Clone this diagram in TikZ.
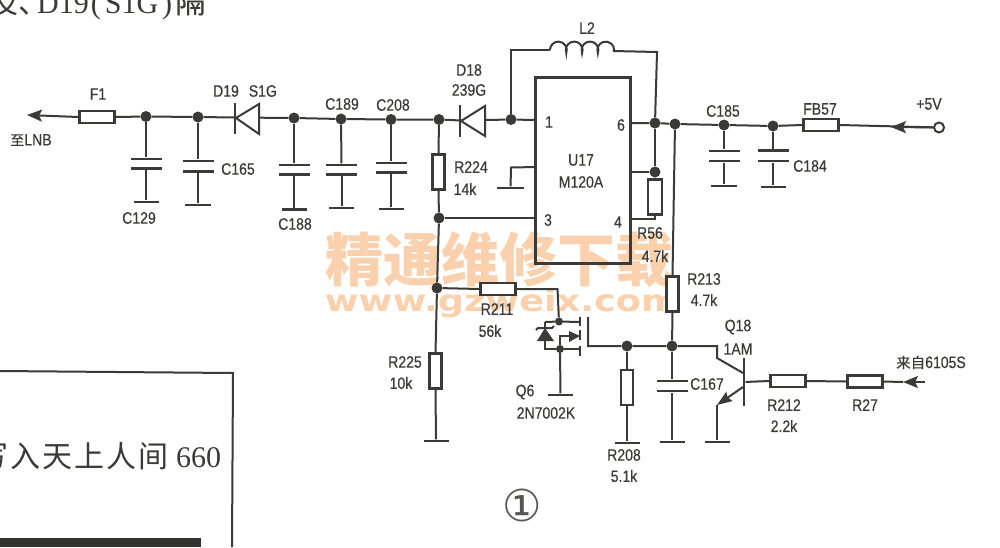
\documentclass[tikz,border=0pt]{standalone}
\usepackage{fontspec}
\usetikzlibrary{arrows.meta}
\setmainfont{Liberation Serif}
\newfontfamily\lb[FakeStretch=0.85,FakeBold=0.35]{Liberation Sans}
\newfontfamily\cjk{Noto Sans CJK SC}
\newfontfamily\cjkb[FakeBold=0.35]{Noto Sans CJK SC}
\newfontfamily\djv{DejaVu Sans}
\newfontfamily\wmfont[FakeStretch=1.22]{DejaVu Sans}
\definecolor{ink}{HTML}{3A3A36}
\definecolor{wm}{HTML}{FBD0AC}
\tikzset{
  wire/.style={draw=ink,line width=2pt,line join=miter},
  res/.style={draw=ink,fill=white,line width=2.1pt,rectangle,inner sep=0pt},
  hres/.style={res,minimum width=35pt,minimum height=12pt},
  vres/.style={res,minimum width=12pt,minimum height=35pt},
  dot/.style={circle,fill=ink,inner sep=0pt,minimum size=11pt},
  plate/.style={rectangle,fill=ink,inner sep=0pt,minimum height=2.8pt},
  lbl/.style={inner sep=0pt,text=ink,font=\lb\fontsize{16.5}{16.5}\selectfont},
  sym/.style={fill=white,draw=ink,line width=2pt,line join=miter},
  head/.style={-{Stealth[length=15pt,width=12pt,inset=3pt]}},
  wmark/.style={inner sep=0pt,text=wm}
}
% name, top connection, x, plate1 y, plate2 y, ground y, plate width, ground width
\newcommand{\capv}[8]{%
  \node[plate,minimum width=#7pt] (#1a) at (#3,#4) {};
  \node[plate,minimum width=#7pt] (#1b) at (#3,#5) {};
  \node[plate,minimum width=#8pt] (#1g) at (#3,#6) {};
  \draw[wire] (#2) -- (#1a);
  \draw[wire] (#1b) -- (#1g);
}
\newcommand{\gnd}[4]{\node[plate,minimum width=#4pt] (#1) at (#2,#3) {};}
\begin{document}
\begin{tikzpicture}[x=1pt,y=-1pt]
\useasboundingbox (0,0) rectangle (1000,547);
\fill[white] (0,0) rectangle (1000,547);

% watermark lies under the drawing
\node[wmark,font=\cjk\bfseries\fontsize{58}{58}\selectfont] (wm1) at (499,260) {精通维修下载};
\node[wmark,anchor=base,font=\wmfont\bfseries\fontsize{30}{30}\selectfont] (wm2) at (502,311) {www.gzweix.com};

% page fragments
\node[anchor=base west,inner sep=0pt,text=ink,font=\fontsize{30}{30}\selectfont] (toptext) at (-12,13) {{\cjk 及、}\hspace{-11pt}D19\hspace{2pt}(\hspace{4pt}S1G\hspace{4pt})\hspace{3pt}{\cjkb 隔}};
\coordinate (boxa) at (0,371);
\coordinate (boxb) at (233,373);
\coordinate (boxc) at (232,547);
\draw[wire] (boxa) -- (boxb) -- (boxc);
\node[anchor=base west,inner sep=0pt,text=ink,font=\fontsize{30}{30}\selectfont] (boxtext) at (-22,467) {{\cjk\addfontfeature{LetterSpace=6.6}写入天上人间}\hspace{8pt}660};
\fill[ink!85!black] (0,538) rectangle (201,547);
\node[inner sep=0pt,text=ink!85,font=\djv\fontsize{44}{44}\selectfont] (circ) at (522,505.5) {①};

% main line, left part
\coordinate (lnb) at (27,115);
\node[hres] (f1) at (97,117) {};
\node[dot] (j1) at (146,116.5) {};
\node[dot] (j2) at (198,117) {};
\coordinate (d19t) at (236,117.5);
\node[dot] (j3) at (294,118) {};
\node[dot] (j4) at (341,119) {};
\node[dot] (j5) at (391,119.5) {};
\node[dot] (j6) at (439,119.5) {};
\coordinate (d18t) at (461,120.5);
\node[dot] (j7) at (511,119.5) {};
\draw[wire,head] (f1.west) -- (lnb);
\draw[wire] (f1.east) -- (j1) -- (j2) -- (d19t) -- (j3) -- (j4) -- (j5) -- (j6) -- (d18t) -- (j7);

% diodes
\draw[sym] (259,104) -- (236,118) -- (259,134) -- cycle;
\draw[wire] (235,103) -- (235,134);
\draw[sym] (485,106) -- (461,121) -- (485,136) -- cycle;
\draw[wire] (460,105) -- (460,137);

% capacitors
\capv{cA}{j1}{146}{159}{168.5}{202}{31}{25}
\capv{cB}{j2}{198}{161}{171.5}{205}{31}{26}
\capv{cC}{j3}{294}{165}{174.5}{209.5}{31}{25}
\capv{cD}{j4}{341.5}{165}{174.5}{208}{31}{25}
\capv{cE}{j5}{391}{163}{172.5}{209}{31}{25}

% IC
\node[draw=ink,line width=3pt,rectangle,inner sep=0pt,minimum width=95pt,minimum height=186pt] (u17) at (582.5,170) {};
\draw[wire] (j7) -- (535,120);

% L2
\coordinate (la) at (511,50);
\coordinate (lb) at (550,50);
\coordinate (lc) at (613,51);
\coordinate (ld) at (657,52);
\node[dot] (j8) at (655,123) {};
\draw[wire] (j7) -- (la) -- (lb);
\draw[wire] (lb) arc[start angle=180,end angle=380,radius=8.4]
  arc[start angle=160,end angle=380,radius=8.4] arc[start angle=160,end angle=380,radius=8.4] arc[start angle=160,end angle=360,radius=8.4] -- (lc);
\draw[wire] (lc) -- (ld) -- (j8);

% right line
\node[dot] (j9) at (675,124) {};
\node[dot] (j10) at (724,125) {};
\node[dot] (j11) at (773,126) {};
\node[hres] (fb57) at (821,125) {};
\node[circle,draw=ink,line width=2pt,fill=white,inner sep=0pt,minimum size=10pt] (vin) at (939,127.5) {};
\coordinate (vtip) at (891,127);
\draw[wire] (630,123) -- (j8) -- (j9) -- (j10) -- (j11) -- (fb57.west);
\draw[wire] (fb57.east) -- (vin);
\draw[wire,head] (vin) -- (vtip);
\capv{cF}{j10}{724}{151}{161}{186}{31}{26}
\capv{cG}{j11}{773}{150.5}{161}{187}{31}{25}

% R56
\node[dot] (j12) at (655,172) {};
\node[vres,minimum width=14pt] (r56) at (655,197) {};
\coordinate (p4) at (630,219);
\coordinate (r56b) at (655,219);
\draw[wire] (j8) -- (j12) -- (r56.north);
\draw[wire] (630,172) -- (j12);
\draw[wire] (r56.south) -- (r56b) -- (p4);

% pin 2 ground
\coordinate (p2a) at (511,167.5);
\gnd{g2}{510.5}{188}{27}
\draw[wire] (535,167) -- (p2a) -- (g2);

% R224 / R225 column
\node[vres] (r224) at (438.5,172) {};
\node[dot] (j13) at (439,218) {};
\node[dot] (j14) at (437,288) {};
\node[vres] (r225) at (435.5,371) {};
\gnd{g3}{436}{441}{25}
\draw[wire] (j6) -- (r224.north);
\draw[wire] (r224.south) -- (j13) -- (j14) -- (r225.north);
\draw[wire] (r225.south) -- (g3);
\draw[wire] (j13) -- (535,218);

% R211 and Q6
\node[hres] (r211) at (498,289) {};
\node[dot,minimum size=8pt] (j15) at (559,321.5) {};
\node[dot,minimum size=8pt] (j16) at (560,349) {};
\coordinate (q6a) at (557.5,289);
\draw[wire] (j14) -- (r211.west);
\draw[wire] (r211.east) -- (q6a) -- (j15);
\gnd{g4}{560.5}{395}{25}
\draw[wire] (j16) -- (g4);
\draw[wire] (545,322) -- (j15) -- (580,322);
\draw[wire] (545,322) -- (545,349) -- (j16) -- (580,349);
\draw[wire] (j16) -- (560,336) -- (570,336);
\fill[ink] (569,331) -- (580,336) -- (569,342) -- cycle;
\draw[wire] (580,316.5) -- (580,326);
\draw[wire] (580,330) -- (580,340);
\draw[wire] (580,345.5) -- (580,355.5);
\fill[ink] (537,341) -- (545,328) -- (554,341) -- cycle;
\draw[wire] (536,330) -- (538,328) -- (552,328) -- (554,326);

% gate line
\coordinate (g6a) at (588,317);
\coordinate (g6b) at (588,346);
\node[dot] (j17) at (627,346) {};
\node[dot] (j18) at (672,346) {};
\coordinate (q18c) at (717,346);
\coordinate (q18d) at (717,358);
\coordinate (q18e) at (743,373);
\draw[wire] (g6a) -- (g6b) -- (j17) -- (j18) -- (q18c) -- (q18d) -- (q18e);

% R213, R208, C167
\node[vres] (r213) at (672.5,294) {};
\draw[wire] (j9) -- (r213.north);
\draw[wire] (r213.south) -- (j18);
\node[vres] (r208) at (627,387.5) {};
\gnd{g5}{627}{443}{25}
\draw[wire] (j17) -- (r208.north);
\draw[wire] (r208.south) -- (g5);
\capv{cH}{j18}{672}{381}{391}{442}{31}{25}

% Q18
\node[plate,minimum height=48pt,minimum width=2.8pt] (q18) at (744,382) {};
\coordinate (q18f) at (743,387);
\coordinate (q18g) at (717,405);
\gnd{g6}{717}{442}{25}
\draw[wire,-{Stealth[length=15pt,width=11pt,inset=2pt]}] (q18f) -- (q18g);
\draw[wire] (q18g) -- (g6);
\node[hres] (r212) at (788,381) {};
\node[hres] (r27) at (865,381.5) {};
\coordinate (intip) at (903,382);
\coordinate (insrc) at (925,382);
\draw[wire] (q18) -- (r212.west);
\draw[wire] (r212.east) -- (r27.west);
\draw[wire,head] (insrc) -- (intip);
\draw[wire] (r27.east) -- (intip);

% labels
\node[lbl] (t1) at (98,94) {F1};
\node[lbl] (t2) at (31,140) {{\cjkb\fontsize{14}{14}\selectfont 至}LNB};
\node[lbl] (t3) at (245,91) {D19\hspace{10pt}S1G};
\node[lbl] (t4) at (139,218) {C129};
\node[lbl] (t5) at (238,169) {C165};
\node[lbl] (t6) at (295,224) {C188};
\node[lbl] (t7) at (342,104) {C189};
\node[lbl] (t8) at (393,105) {C208};
\node[lbl] (t9) at (469,70) {D18};
\node[lbl] (t10) at (469,90) {239G};
\node[lbl] (t11) at (471,167) {R224};
\node[lbl] (t12) at (465,189) {14k};
\node[lbl] (t13) at (587,28) {L2};
\node[lbl] (t14) at (549,122) {1};
\node[lbl] (t15) at (621,125) {6};
\node[lbl] (t16) at (548,220) {3};
\node[lbl] (t17) at (618,222) {4};
\node[lbl] (t18) at (581,160) {U17};
\node[lbl] (t19) at (581,182) {M120A};
\node[lbl] (t20) at (650,233) {R56};
\node[lbl] (t21) at (655,256) {4.7k};
\node[lbl] (t22) at (723,111) {C185};
\node[lbl] (t23) at (820,109) {FB57};
\node[lbl] (t24) at (929,104) {+5V};
\node[lbl] (t25) at (810,166) {C184};
\node[lbl] (t26) at (704,279) {R213};
\node[lbl] (t27) at (704,300) {4.7k};
\node[lbl] (t28) at (497,309) {R211};
\node[lbl] (t29) at (490,331) {56k};
\node[lbl] (t30) at (405,362) {R225};
\node[lbl] (t31) at (401,383) {10k};
\node[lbl] (t32) at (525,392) {Q6};
\node[lbl] (t33) at (546,413) {2N7002K};
\node[lbl] (t34) at (738,327) {Q18};
\node[lbl] (t35) at (738,349) {1AM};
\node[lbl] (t36) at (707,384) {C167};
\node[lbl] (t37) at (784,405) {R212};
\node[lbl] (t38) at (784,426) {2.2k};
\node[lbl] (t39) at (865,405) {R27};
\node[lbl] (t40) at (931,362.5) {{\cjkb\fontsize{14.5}{14.5}\selectfont 来自}6105S};
\node[lbl] (t41) at (624,455) {R208};
\node[lbl] (t42) at (624,476) {5.1k};
\end{tikzpicture}
\end{document}
